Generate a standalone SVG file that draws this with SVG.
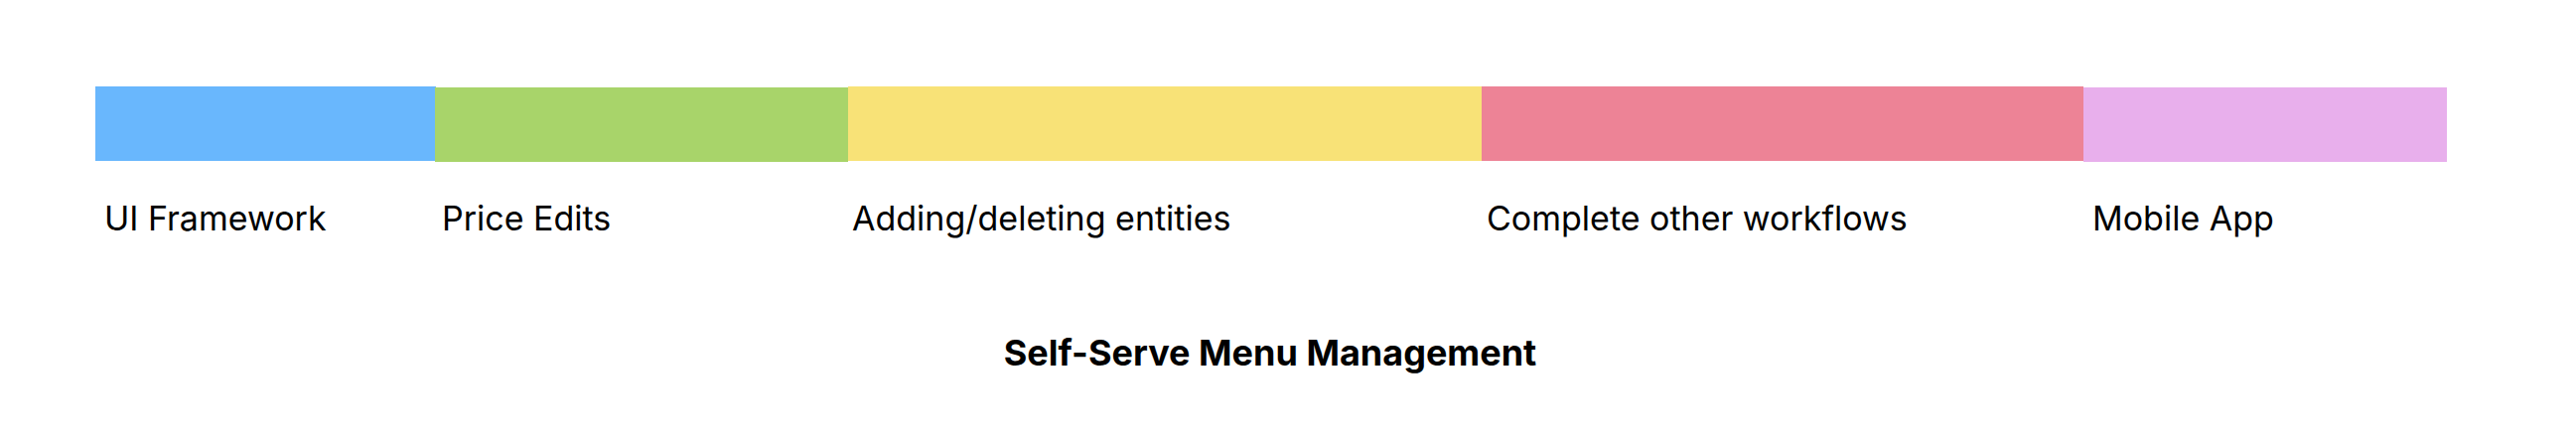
<svg xmlns="http://www.w3.org/2000/svg" width="2594" height="448" viewBox="0 0 2594 448">
<style>
.lbl{font-family:"Inter","Liberation Sans",sans-serif;font-size:34px;fill:#000}
.title{font-family:"Inter","Liberation Sans",sans-serif;font-size:36px;font-weight:700;fill:#000}
</style>
<rect width="2594" height="448" fill="#fff"/>
<g id="ui-framework"><rect x="96" y="87" width="343" height="75" fill="#69b7fd"/><text class="lbl" x="105" y="232">UI Framework</text></g>
<g id="price-edits"><rect x="438" y="88" width="416" height="75" fill="#a8d46a"/><text class="lbl" x="445" y="232">Price Edits</text></g>
<g id="adding-deleting"><rect x="854" y="87" width="638" height="75" fill="#f8e277"/><text class="lbl" x="858" y="232">Adding/deleting entities</text></g>
<g id="complete-workflows"><rect x="1492" y="87" width="606" height="75" fill="#ed8396"/><text class="lbl" x="1497" y="232">Complete other workflows</text></g>
<g id="mobile-app"><rect x="2098" y="88" width="366" height="75" fill="#e8afec"/><text class="lbl" x="2107" y="232">Mobile App</text></g>
<g id="connectors"/>
<text class="title" x="1279" y="368" text-anchor="middle">Self-Serve Menu Management</text>
</svg>
